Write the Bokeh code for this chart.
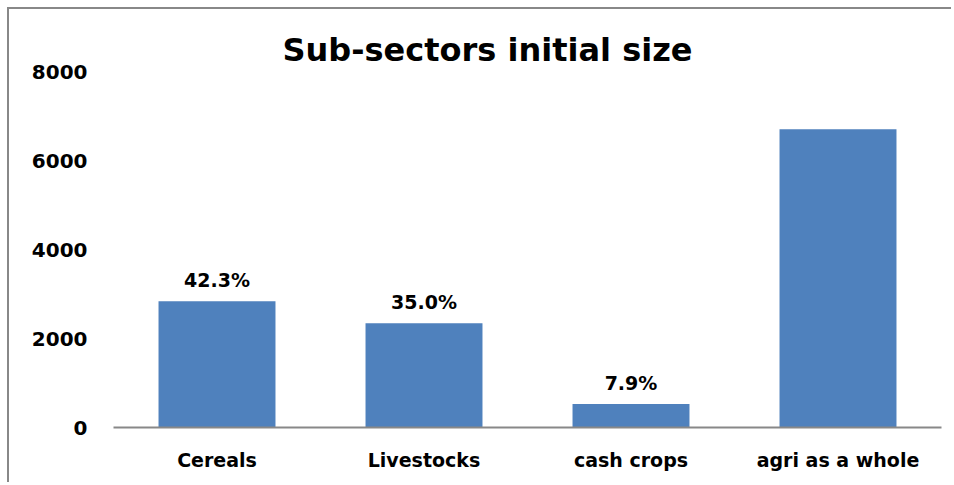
from bokeh.plotting import figure
from bokeh.models import ColumnDataSource, FixedTicker, Title
from bokeh.core.properties import value
from bokeh.embed import file_html
from bokeh.resources import INLINE

categories = ["Cereals", "Livestocks", "cash crops", "agri as a whole"]
sizes = [2835, 2345, 530, 6700]
share_labels = ["42.3%", "35.0%", "7.9%", ""]
y_ticks = [0, 2000, 4000, 6000, 8000]

FONT = "DejaVu Sans"
BAR = "#4F81BD"

src = ColumnDataSource(dict(cat=categories, val=sizes, lab=share_labels))

p = figure(x_range=categories, y_range=(0, 8000), width=944, height=475,
           output_backend="svg", toolbar_location=None,
           min_border_left=104, min_border_right=12,
           min_border_top=62, min_border_bottom=57)
p.margin = (7, 0, 0, 7)
p.styles = {"border-left": "2px solid #888888", "border-top": "2px solid #888888"}

p.title = Title(text="Sub-sectors initial size", text_font=FONT,
                text_font_size="32px", text_font_style="bold",
                text_color="#000000", align="left", offset=169, standoff=6)

p.vbar(x="cat", top="val", width=0.565, source=src, color=BAR, line_color=None)
p.text(x="cat", y="val", text="lab", source=src, y_offset=-21,
       text_align="center", text_baseline="alphabetic",
       text_font=value(FONT), text_font_size="19px", text_font_style="bold",
       text_color="#000000")

p.xgrid.visible = False
p.ygrid.visible = False
p.outline_line_color = None
p.background_fill_color = "white"
p.border_fill_color = "white"

ya = p.yaxis[0]
ya.ticker = FixedTicker(ticks=y_ticks)
ya.axis_line_color = None
ya.major_tick_line_color = None
ya.minor_tick_line_color = None
ya.major_label_standoff = 20
ya.major_label_text_font = FONT
ya.major_label_text_font_size = "20px"
ya.major_label_text_font_style = "bold"
ya.major_label_text_color = "#000000"

xa = p.xaxis[0]
xa.axis_line_color = "#888888"
xa.axis_line_width = 2
xa.major_tick_line_color = None
xa.minor_tick_line_color = None
xa.major_label_standoff = 15
xa.major_label_text_font = FONT
xa.major_label_text_font_size = "19px"
xa.major_label_text_font_style = "bold"
xa.major_label_text_color = "#000000"

open("out.html", "w").write(file_html(p, INLINE))
